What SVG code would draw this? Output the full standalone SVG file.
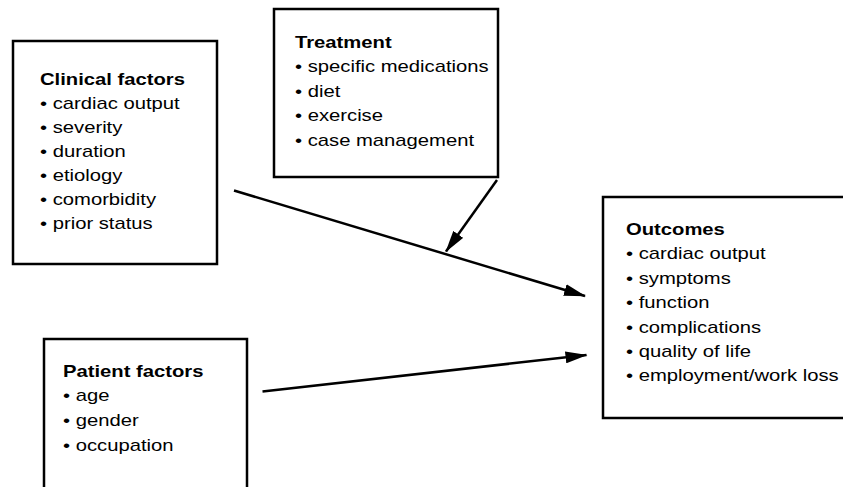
<svg xmlns="http://www.w3.org/2000/svg" width="843" height="487" viewBox="0 0 843 487">
<style>
.box{fill:#fff;stroke:#000;stroke-width:2.5}
text{font-family:"Liberation Sans",Arial,sans-serif;font-size:17px;fill:#000}
.t{font-weight:bold}
.conn line{stroke:#000;stroke-width:2.5;marker-end:url(#ah)}
</style>
<defs>
<marker id="ah" markerUnits="userSpaceOnUse" markerWidth="22" markerHeight="12" refX="21" refY="6" orient="auto" viewBox="0 0 22 12">
<path d="M0,0 L22,6 L0,12 z" fill="#000"/>
</marker>
</defs>
<rect width="843" height="487" fill="#fff"/>
<g id="clinical">
<rect class="box" x="13" y="41" width="204" height="223"/>
<g transform="translate(40,0) scale(1.19,1)">
<text class="t" x="0" y="85">Clinical factors</text>
<text x="0" y="109">• cardiac output</text>
<text x="0" y="133">• severity</text>
<text x="0" y="157">• duration</text>
<text x="0" y="181">• etiology</text>
<text x="0" y="205">• comorbidity</text>
<text x="0" y="229">• prior status</text>
</g>
</g>
<g id="treatment">
<rect class="box" x="274" y="9" width="224" height="168"/>
<g transform="translate(295,0) scale(1.19,1)">
<text class="t" x="0" y="48">Treatment</text>
<text x="0" y="72.5">• specific medications</text>
<text x="0" y="97">• diet</text>
<text x="0" y="121.5">• exercise</text>
<text x="0" y="146">• case management</text>
</g>
</g>
<g id="outcomes">
<rect class="box" x="603" y="197" width="245" height="221"/>
<g transform="translate(626,0) scale(1.19,1)">
<text class="t" x="0" y="235">Outcomes</text>
<text x="0" y="259.5">• cardiac output</text>
<text x="0" y="284">• symptoms</text>
<text x="0" y="308.5">• function</text>
<text x="0" y="333">• complications</text>
<text x="0" y="357">• quality of life</text>
<text x="0" y="381.5">• employment/work loss</text>
</g>
</g>
<g id="patient">
<rect class="box" x="44" y="339" width="203" height="160"/>
<g transform="translate(63,0) scale(1.19,1)">
<text class="t" x="0" y="377">Patient factors</text>
<text x="0" y="401.5">• age</text>
<text x="0" y="426.5">• gender</text>
<text x="0" y="451.5">• occupation</text>
</g>
</g>
<g id="connectors" class="conn">
<line x1="234" y1="190.5" x2="585" y2="296"/>
<line x1="497" y1="180" x2="446" y2="251.5"/>
<line x1="262.5" y1="391.5" x2="586.5" y2="355"/>
</g>
</svg>
